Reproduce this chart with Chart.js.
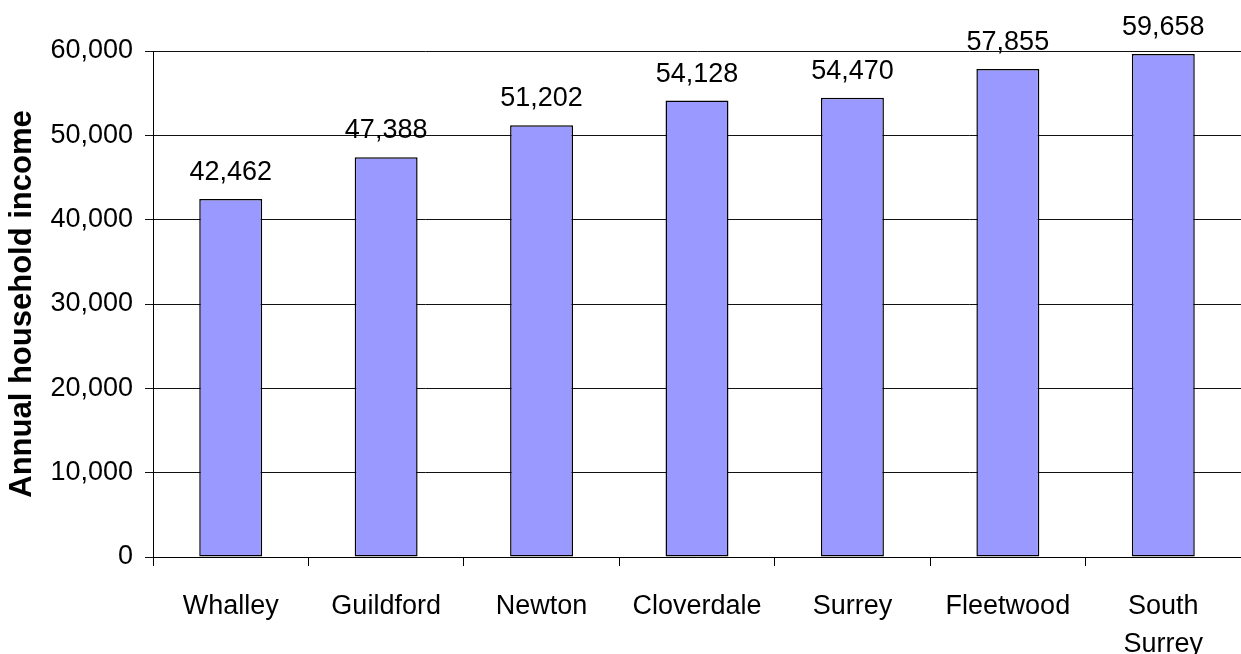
<!DOCTYPE html>
<html>
<head>
<meta charset="utf-8">
<title>Annual household income</title>
<script src="https://cdn.jsdelivr.net/npm/chart.js@4/dist/chart.umd.min.js"></script>
<style>
  html, body { margin: 0; padding: 0; background: #ffffff; }
  #wrap { width: 1241px; height: 654px; position: relative; }
</style>
</head>
<body>
<div id="wrap"><canvas id="chart"></canvas></div>
<script>
// Neighbourhoods and their annual household income
const categories = ['Whalley', 'Guildford', 'Newton', 'Cloverdale', 'Surrey', 'Fleetwood', ['South', 'Surrey']];
const incomes = [42462, 47388, 51202, 54128, 54470, 57855, 59658];
const yTicks = [0, 10000, 20000, 30000, 40000, 50000, 60000];

const FONT = '"Liberation Sans", Arial, Helvetica, sans-serif';
const fmt = new Intl.NumberFormat('en-US');

// Writes each bar's value above it
const valueLabels = {
  id: 'valueLabels',
  afterDatasetsDraw(chart) {
    const ctx = chart.ctx;
    const meta = chart.getDatasetMeta(0);
    ctx.save();
    ctx.font = '27px ' + FONT;
    ctx.fillStyle = '#000';
    ctx.textAlign = 'center';
    ctx.textBaseline = 'alphabetic';
    meta.data.forEach((bar, i) => {
      ctx.fillText(fmt.format(incomes[i]), bar.x, bar.y - 19);
    });
    ctx.restore();
  }
};

new Chart(document.getElementById('chart'), {
  type: 'bar',
  data: {
    labels: categories,
    datasets: [{
      data: incomes,
      backgroundColor: '#9999ff',
      borderColor: '#000000',
      borderWidth: 1.5,
      borderSkipped: false,
      barPercentage: 0.405,
      categoryPercentage: 1.0
    }]
  },
  options: {
    responsive: true,
    maintainAspectRatio: false,
    animation: false,
    layout: { padding: { top: 51, left: 0, right: 0, bottom: 0 } },
    plugins: {
      legend: { display: false },
      tooltip: { enabled: false }
    },
    scales: {
      x: {
        offset: true,
        border: { display: true, color: '#000', width: 1 },
        grid: {
          offset: true,
          drawOnChartArea: false,
          drawTicks: true,
          tickLength: 9,
          color: '#000'
        },
        ticks: {
          color: '#000',
          font: { family: FONT, size: 27, lineHeight: 1.4 },
          padding: 22,
          maxRotation: 0,
          autoSkip: false
        },
        afterFit(scale) { scale.height = 97; }
      },
      y: {
        min: 0,
        max: 60000,
        afterBuildTicks(scale) { scale.ticks = yTicks.map(v => ({ value: v })); },
        border: { display: true, color: '#000', width: 1 },
        grid: {
          color: '#111',
          lineWidth: 1,
          tickLength: 8
        },
        ticks: {
          color: '#000',
          font: { family: FONT, size: 27 },
          padding: 12,
          callback: (v) => fmt.format(v)
        },
        title: {
          display: true,
          text: 'Annual household income',
          color: '#000',
          font: { family: FONT, size: 31, weight: 'bold' },
          padding: { top: 4, bottom: 0 }
        },
        afterFit(scale) { scale.width = 153; }
      }
    }
  },
  plugins: [valueLabels]
});
</script>
</body>
</html>
